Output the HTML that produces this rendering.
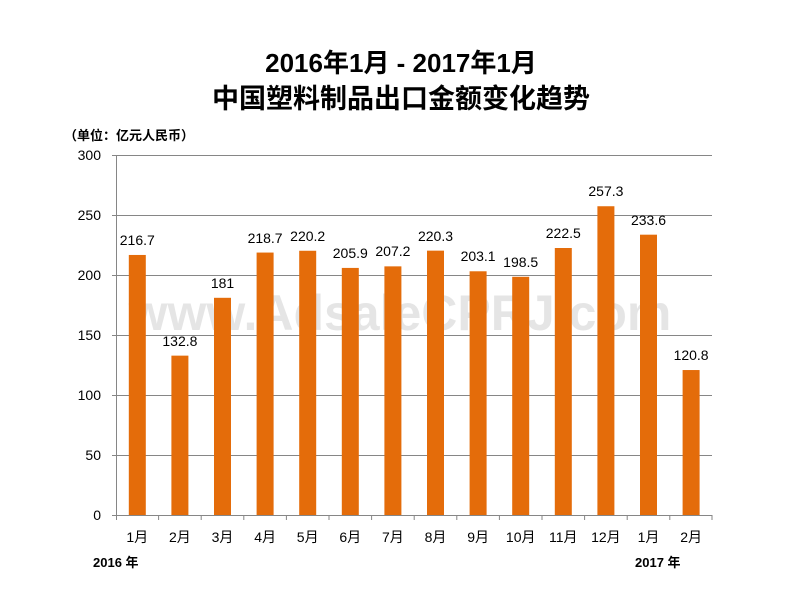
<!DOCTYPE html>
<html><head><meta charset="utf-8"><style>
body{margin:0;background:#fff;}
svg{display:block;font-family:"Liberation Sans","Noto Sans CJK SC",sans-serif;}
</style></head><body>
<svg width="803" height="600" xmlns="http://www.w3.org/2000/svg">
<rect width="803" height="600" fill="#fff"/>
<text x="401" y="72" text-anchor="middle" font-size="26" font-weight="bold" fill="#000">2016年1月 - 2017年1月</text>
<text x="401" y="108" text-anchor="middle" font-size="27" font-weight="bold" fill="#000">中国塑料制品出口金额变化趋势</text>
<text x="64" y="140" font-size="13" font-weight="bold" fill="#000">（单位：亿元人民币）</text>
<g stroke="#868686" stroke-width="1">
<line x1="112" y1="155.5" x2="712" y2="155.5"/>
<line x1="112" y1="215.5" x2="712" y2="215.5"/>
<line x1="112" y1="275.5" x2="712" y2="275.5"/>
<line x1="112" y1="335.5" x2="712" y2="335.5"/>
<line x1="112" y1="395.5" x2="712" y2="395.5"/>
<line x1="112" y1="455.5" x2="712" y2="455.5"/>
<line x1="112" y1="515.5" x2="712" y2="515.5"/>
<line x1="116.5" y1="155" x2="116.5" y2="520"/>
<line x1="158.6" y1="515" x2="158.6" y2="520"/><line x1="201.2" y1="515" x2="201.2" y2="520"/>
<line x1="243.8" y1="515" x2="243.8" y2="520"/><line x1="286.4" y1="515" x2="286.4" y2="520"/>
<line x1="329" y1="515" x2="329" y2="520"/><line x1="371.6" y1="515" x2="371.6" y2="520"/>
<line x1="414.2" y1="515" x2="414.2" y2="520"/><line x1="456.8" y1="515" x2="456.8" y2="520"/>
<line x1="499.4" y1="515" x2="499.4" y2="520"/><line x1="542" y1="515" x2="542" y2="520"/>
<line x1="584.6" y1="515" x2="584.6" y2="520"/><line x1="627.2" y1="515" x2="627.2" y2="520"/>
<line x1="669.8" y1="515" x2="669.8" y2="520"/><line x1="712" y1="515" x2="712" y2="520"/>
</g>
<g font-size="14" fill="#000" text-anchor="end">
<text x="101" y="160">300</text><text x="101" y="220">250</text><text x="101" y="280">200</text>
<text x="101" y="340">150</text><text x="101" y="400">100</text><text x="101" y="460">50</text><text x="101" y="520">0</text>
</g>
<text x="400" y="330" text-anchor="middle" font-size="50" font-weight="bold" fill="#000" fill-opacity="0.1">www.AdsaleCPRJ.com</text>
<g fill="#E46C0A">
<rect x="128.8" y="254.96" width="17" height="260.04"/>
<rect x="171.4" y="355.64" width="17" height="159.36"/>
<rect x="214" y="297.8" width="17" height="217.2"/>
<rect x="256.6" y="252.56" width="17" height="262.44"/>
<rect x="299.2" y="250.76" width="17" height="264.24"/>
<rect x="341.8" y="267.92" width="17" height="247.08"/>
<rect x="384.4" y="266.36" width="17" height="248.64"/>
<rect x="427" y="250.64" width="17" height="264.36"/>
<rect x="469.6" y="271.28" width="17" height="243.72"/>
<rect x="512.2" y="276.8" width="17" height="238.2"/>
<rect x="554.8" y="248" width="17" height="267"/>
<rect x="597.4" y="206.24" width="17" height="308.76"/>
<rect x="640" y="234.68" width="17" height="280.32"/>
<rect x="682.6" y="370.04" width="17" height="144.96"/>
</g>
<g font-size="14" fill="#000" text-anchor="middle">
<text x="137.3" y="245">216.7</text>
<text x="179.9" y="346">132.8</text>
<text x="222.5" y="288">181</text>
<text x="265.1" y="243">218.7</text>
<text x="307.7" y="241">220.2</text>
<text x="350.3" y="258">205.9</text>
<text x="392.9" y="256">207.2</text>
<text x="435.5" y="241">220.3</text>
<text x="478.1" y="261">203.1</text>
<text x="520.7" y="267">198.5</text>
<text x="563.3" y="238">222.5</text>
<text x="605.9" y="196">257.3</text>
<text x="648.5" y="225">233.6</text>
<text x="691.1" y="360">120.8</text>
<text x="137.3" y="542">1月</text><text x="179.9" y="542">2月</text><text x="222.5" y="542">3月</text>
<text x="265.1" y="542">4月</text><text x="307.7" y="542">5月</text><text x="350.3" y="542">6月</text>
<text x="392.9" y="542">7月</text><text x="435.5" y="542">8月</text><text x="478.1" y="542">9月</text>
<text x="520.7" y="542">10月</text><text x="563.3" y="542">11月</text><text x="605.9" y="542">12月</text>
<text x="648.5" y="542">1月</text><text x="691.1" y="542">2月</text>
</g>
<text x="93" y="567" font-size="13" font-weight="bold" fill="#000">2016 年</text>
<text x="635" y="567" font-size="13" font-weight="bold" fill="#000">2017 年</text>
</svg>
</body></html>
